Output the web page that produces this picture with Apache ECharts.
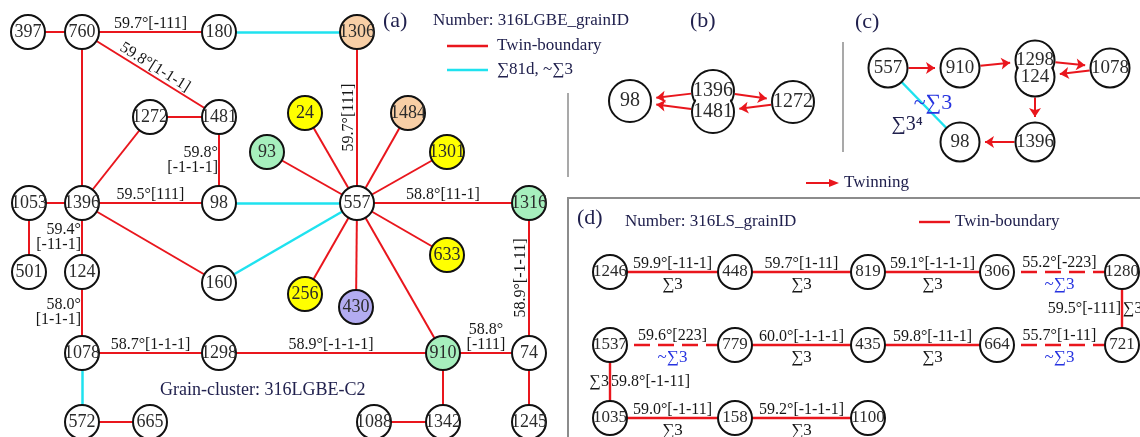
<!DOCTYPE html>
<html>
<head>
<meta charset="utf-8">
<script src="https://cdn.jsdelivr.net/npm/echarts@6/dist/echarts.min.js"></script>
<style>
  html, body { margin: 0; padding: 0; background: #ffffff; }
  #chart { width: 1140px; height: 437px; }
</style>
</head>
<body>
<div id="chart"></div>
<script>
// ---------- (a) grain cluster 316LGBE-C2 ----------
const grainsA = ['397', '760', '180', '1306', '1272', '1481', '24', '1484', '93', '1301',
  '1053', '1396', '98', '557', '1316', '633', '501', '124', '160', '256', '430',
  '1078', '1298', '910', '74', '572', '665', '1088', '1342', '1245'];
// colour family of each grain (w = plain)
const familyA = ['w', 'w', 'w', 'o', 'w', 'w', 'y', 'o', 'g', 'y',
  'w', 'w', 'w', 'w', 'g', 'y', 'w', 'w', 'w', 'y', 'v',
  'w', 'w', 'g', 'w', 'w', 'w', 'w', 'w', 'w'];
// twin boundaries: [grain, grain, misorientation]
const twinA = [
  ['397', '760', ''],
  ['760', '180', '59.7°[-111]'],
  ['760', '1481', '59.8°[1-1-1]'],
  ['760', '1396', ''],
  ['1272', '1481', ''],
  ['1396', '1272', ''],
  ['1053', '1396', ''],
  ['1396', '98', '59.5°[111]'],
  ['557', '1306', '59.7°[111]'],
  ['557', '24', ''], ['557', '93', ''], ['557', '1484', ''], ['557', '1301', ''],
  ['557', '1316', '58.8°[11-1]'],
  ['1396', '160', ''],
  ['557', '256', ''], ['557', '430', ''], ['557', '633', ''], ['557', '910', ''],
  ['1053', '501', ''],
  ['1078', '1298', '58.7°[1-1-1]'],
  ['1298', '910', '58.9°[-1-1-1]'],
  ['910', '74', '58.8°\n[-111]'],
  ['74', '1316', '58.9°[-1-11]'],
  ['572', '665', ''], ['1088', '1342', ''], ['910', '1342', ''], ['74', '1245', '']
];
// twin boundaries whose misorientation is written beside the segment: [grain, grain, left text, right text]
const twinSideA = [
  ['1481', '98', '59.8°\n[-1-1-1]', ''],
  ['1396', '124', '59.4°\n[-11-1]', ''],
  ['124', '1078', '58.0°\n[1-1-1]', '']
];
// Σ81d / near-Σ3 boundaries
const sigmaA = [['180', '1306'], ['98', '557'], ['160', '557'], ['1078', '572']];

// ---------- (b) twinning sequence ----------
const grainsB = ['98', '1272'];
const pairB = ['1396', '1481'];
const twinningB = [['1396', '98'], ['1481', '98'], ['1396', '1272'], ['1272', '1481']];

// ---------- (c) twinning sequence ----------
const grainsC = ['557', '910', '1078', '98', '1396'];
const pairC = ['1298', '124'];
const twinningC = [['557', '910'], ['910', '1298'], ['1298', '1078'], ['1078', '124'], ['124', '1396'], ['1396', '98']];
const sigmaC = [['557', '98', '~∑3', '∑3⁴']];

// ---------- (d) 316LS chains ----------
const grainsD = ['1246', '448', '819', '306', '1280', '1537', '779', '435', '664', '721', '1035', '158', '1100'];
// [grain, grain, misorientation, CSL]
const twinD = [
  ['1246', '448', '59.9°[-11-1]', '∑3'],
  ['448', '819', '59.7°[1-11]', '∑3'],
  ['819', '306', '59.1°[-1-1-1]', '∑3'],
  ['779', '435', '60.0°[-1-1-1]', '∑3'],
  ['435', '664', '59.8°[-11-1]', '∑3'],
  ['1035', '158', '59.0°[-1-11]', '∑3'],
  ['158', '1100', '59.2°[-1-1-1]', '∑3']
];
const nearD = [
  ['306', '1280', '55.2°[-223]', '~∑3'],
  ['1537', '779', '59.6°[223]', '~∑3'],
  ['664', '721', '55.7°[1-11]', '~∑3']
];
const twinSideD = [
  ['1280', '721', '59.5°[-111]', '∑3'],
  ['1537', '1035', '∑3', '59.8°[-1-11]']
];

// ---------- drawing layout (chart pixel space) ----------
const layout = {
  a: { '397': [28, 32], '760': [82, 32], '180': [219, 32], '1306': [357, 32],
       '1272': [150, 117], '1481': [219, 117], '24': [305, 113], '1484': [408, 113],
       '93': [267, 152], '1301': [447, 152], '1053': [29, 203], '1396': [82, 203],
       '98': [219, 203], '557': [357, 203], '1316': [529, 203], '633': [447, 255],
       '501': [29, 272], '124': [82, 272], '160': [219, 283], '256': [305, 294],
       '430': [356, 307], '1078': [82, 353], '1298': [219, 353], '910': [443, 353],
       '74': [529, 353], '572': [82, 422], '665': [150, 422], '1088': [374, 422],
       '1342': [443, 422], '1245': [529, 422] },
  b: { '98': [630, 101], '1396': [713, 91], '1481': [713, 112], '1272': [793, 102] },
  c: { '557': [888, 68], '910': [960, 68], '1298': [1035, 60], '124': [1035, 77],
       '1078': [1110, 68], '98': [960, 142], '1396': [1035, 142] },
  d: { '1246': [610, 272], '448': [735, 272], '819': [868, 272], '306': [997, 272], '1280': [1122, 272],
       '1537': [610, 345], '779': [735, 345], '435': [868, 345], '664': [997, 345], '721': [1122, 345],
       '1035': [610, 418], '158': [735, 418], '1100': [868, 418] }
};
const nodeSize = { a: 34, b: 42, c: 39, d: 34 };
const nodeFont = { a: 18, b: 20, c: 19, d: 17 };
const ARROW = 9;

const SERIF = '"Liberation Serif", "Times New Roman", serif';
const RED = '#e9161d';
const CYAN = '#1fe2ef';
const NAVY = '#21214e';
const INK = '#161616';
const BLUE = '#2633e0';
const FILL = { w: '#ffffff', y: '#ffff00', o: '#f8cfa6', g: '#a6efbd', v: '#b3acf1' };

const at = (p, id) => layout[p][id];
const mid = (p, a, b) => {
  const u = at(p, a), v = at(p, b);
  return [(u[0] + v[0]) / 2, (u[1] + v[1]) / 2];
};

function grainItems(p, ids, fam, shrink) {
  return ids.map((id, i) => ({
    name: id,
    value: at(p, id),
    symbolSize: nodeSize[p] - (shrink || 0),
    itemStyle: { color: FILL[fam ? fam[i] : 'w'] },
    label: { fontSize: nodeFont[p] }
  }));
}

function edge(p, a, b, text, position, extra) {
  const item = { coords: [at(p, a), at(p, b)] };
  if (text) {
    item.label = {
      show: true,
      formatter: text,
      position: position || 'insideMiddleTop',
      color: text.charAt(0) === '~' ? BLUE : INK
    };
  }
  if (extra) Object.assign(item, extra);
  return item;
}

// arrow leaving the rim of one circle, head tip touching the rim of the other
function arrow(p, a, b) {
  const u = at(p, a), v = at(p, b);
  const r = nodeSize[p] / 2 + 1;
  const dx = v[0] - u[0], dy = v[1] - u[1], L = Math.hypot(dx, dy);
  const ex = dx / L, ey = dy / L, e = r + ARROW / 2;
  return { coords: [[u[0] + ex * r, u[1] + ey * r], [v[0] - ex * e, v[1] - ey * e]] };
}

function sideNotes(p, list) {
  const out = [];
  list.forEach(([a, b, left, right]) => {
    const m = mid(p, a, b);
    if (left) out.push({ value: m, label: { position: 'left', formatter: left } });
    if (right) out.push({ value: m, label: { position: 'right', formatter: right } });
  });
  return out;
}

const dStyle = { lineStyle: { width: 2.4 } };

const twinLines = [
  ...twinA.map(([a, b, t]) => edge('a', a, b, t)),
  ...twinSideA.map(([a, b]) => edge('a', a, b)),
  ...twinD.map(([a, b, t]) => edge('d', a, b, t, null, dStyle)),
  ...twinSideD.map(([a, b]) => edge('d', a, b, '', null, dStyle))
];
const nearLines = nearD.map(([a, b, t]) => edge('d', a, b, t));
const sigmaLines = [
  ...sigmaA.map(([a, b]) => edge('a', a, b)),
  ...sigmaC.map(([a, b]) => edge('c', a, b))
];
const cslNotes = [
  ...twinD.map(([a, b, , s]) => edge('d', a, b, s, 'insideMiddleBottom')),
  ...nearD.map(([a, b, , s]) => edge('d', a, b, s, 'insideMiddleBottom'))
];
const twinningLines = [
  ...twinningB.map(([a, b]) => arrow('b', a, b)),
  ...twinningC.map(([a, b]) => arrow('c', a, b))
];
const sideLabels = [...sideNotes('a', twinSideA), ...sideNotes('d', twinSideD)];
const cNotes = sigmaC.flatMap(([a, b, near, cube]) => [
  { value: mid('c', a, b), label: { formatter: near, color: BLUE, fontSize: 22, offset: [9, -2] } },
  { value: mid('c', a, b), label: { formatter: cube, color: NAVY, fontSize: 20, offset: [-17, 20] } }
]);

const plainGrains = [
  ...grainItems('a', grainsA, familyA),
  ...grainItems('b', grainsB),
  ...grainItems('c', grainsC),
  ...grainItems('d', grainsD)
];
const pairGrains = [...grainItems('b', pairB), ...grainItems('c', pairC)];
const pairFaces = [...grainItems('b', pairB, null, 3), ...grainItems('c', pairC, null, 3)];

const lineIcon = 'path://M0,0H41V2.4H0Z';
const lineIconShort = 'path://M0,0H31V2.4H0Z';
const arrowIcon = 'path://M0,3H23V0L33,4L23,8V5H0Z';
const legendText = { fontFamily: SERIF, fontSize: 17, color: NAVY, lineHeight: 20 };
const invisible = { color: 'rgba(0,0,0,0)', opacity: 1 };

const chart = echarts.init(document.getElementById('chart'));
chart.setOption({
  animation: false,
  textStyle: { fontFamily: SERIF },
  grid: { left: 0, right: 0, top: 0, bottom: 0 },
  xAxis: { type: 'value', min: 0, max: 1140, show: false },
  yAxis: { type: 'value', min: 0, max: 437, inverse: true, show: false },
  legend: [
    {
      left: 447, top: 36, orient: 'vertical', padding: 0, itemGap: 4,
      itemWidth: 41, itemHeight: 2.4, selectedMode: false,
      textStyle: Object.assign({ padding: [0, 0, 0, 4] }, legendText),
      data: [
        { name: 'Twin-boundary', icon: lineIcon, itemStyle: { color: RED, borderWidth: 0 } },
        { name: '∑81d, ~∑3', icon: lineIcon, itemStyle: { color: CYAN, borderWidth: 0 } }
      ]
    },
    {
      left: 919, top: 212, padding: 0, itemWidth: 31, itemHeight: 2.4, selectedMode: false,
      textStyle: legendText,
      data: [{ name: 'Twin-boundary', icon: lineIconShort, itemStyle: { color: RED, borderWidth: 0 } }]
    },
    {
      left: 806, top: 173, padding: 0, itemWidth: 33, itemHeight: 8, selectedMode: false,
      textStyle: legendText,
      data: [{ name: 'Twinning', icon: arrowIcon, itemStyle: { color: RED, borderWidth: 0 } }]
    }
  ],
  graphic: [
    { type: 'line', shape: { x1: 568, y1: 93, x2: 568, y2: 177 }, style: { stroke: '#707070', lineWidth: 1.2 } },
    { type: 'line', shape: { x1: 843, y1: 42, x2: 843, y2: 152 }, style: { stroke: '#707070', lineWidth: 1.2 } },
    { type: 'polyline', shape: { points: [[568, 437], [568, 198], [1140, 198]] },
      style: { stroke: '#8c8c8c', lineWidth: 2, fill: null } },
    { type: 'text', x: 383, y: 21, style: { text: '(a)', font: '22px ' + SERIF, fill: NAVY, verticalAlign: 'middle' } },
    { type: 'text', x: 433, y: 21, style: { text: 'Number: 316LGBE_grainID', font: '17px ' + SERIF, fill: NAVY, verticalAlign: 'middle' } },
    { type: 'text', x: 690, y: 21, style: { text: '(b)', font: '22px ' + SERIF, fill: NAVY, verticalAlign: 'middle' } },
    { type: 'text', x: 855, y: 22, style: { text: '(c)', font: '22px ' + SERIF, fill: NAVY, verticalAlign: 'middle' } },
    { type: 'text', x: 577, y: 218, style: { text: '(d)', font: '22px ' + SERIF, fill: NAVY, verticalAlign: 'middle' } },
    { type: 'text', x: 625, y: 222, style: { text: 'Number: 316LS_grainID', font: '17px ' + SERIF, fill: NAVY, verticalAlign: 'middle' } },
    { type: 'text', x: 160, y: 390, style: { text: 'Grain-cluster: 316LGBE-C2', font: '18px ' + SERIF, fill: NAVY, verticalAlign: 'middle' } }
  ],
  series: [
    {
      name: 'Twin-boundary', type: 'lines', coordinateSystem: 'cartesian2d', z: 2, silent: true,
      lineStyle: { color: RED, width: 2, opacity: 1, curveness: 0 },
      label: { show: false, fontFamily: SERIF, fontSize: 16, color: INK, distance: 1, lineHeight: 15 },
      emphasis: { disabled: true },
      data: twinLines
    },
    {
      name: 'near-∑3', type: 'lines', coordinateSystem: 'cartesian2d', z: 2, silent: true,
      lineStyle: { color: RED, width: 2.4, opacity: 1, type: [16, 8], curveness: 0 },
      label: { show: false, fontFamily: SERIF, fontSize: 16, color: INK, distance: 1 },
      emphasis: { disabled: true },
      data: nearLines
    },
    {
      name: '∑81d, ~∑3', type: 'lines', coordinateSystem: 'cartesian2d', z: 2, silent: true,
      lineStyle: { color: CYAN, width: 2.5, opacity: 1, curveness: 0 },
      emphasis: { disabled: true },
      data: sigmaLines
    },
    {
      name: 'CSL', type: 'lines', coordinateSystem: 'cartesian2d', z: 1, silent: true,
      lineStyle: { color: 'rgba(0,0,0,0)', width: 1, opacity: 1, curveness: 0 },
      label: { show: false, fontFamily: SERIF, fontSize: 17, color: INK, distance: 4 },
      emphasis: { disabled: true },
      data: cslNotes
    },
    {
      name: 'Twinning', type: 'lines', coordinateSystem: 'cartesian2d', z: 2, silent: true,
      symbol: ['none', 'arrow'], symbolSize: ARROW,
      lineStyle: { color: RED, width: 2, opacity: 1, curveness: 0 },
      itemStyle: { color: RED },
      emphasis: { disabled: true },
      data: twinningLines
    },
    {
      name: 'grains', type: 'scatter', z: 4, silent: true, symbol: 'circle',
      itemStyle: { borderColor: '#111111', borderWidth: 2, opacity: 1 },
      label: { show: true, position: 'inside', formatter: '{b}', color: '#2b2b2b', fontFamily: SERIF },
      emphasis: { disabled: true },
      data: plainGrains
    },
    {
      name: 'pair rims', type: 'scatter', z: 4, silent: true, symbol: 'circle',
      itemStyle: { color: '#ffffff', borderColor: '#111111', borderWidth: 2, opacity: 1 },
      label: { show: false },
      emphasis: { disabled: true },
      data: pairGrains
    },
    {
      name: 'pair faces', type: 'scatter', z: 5, silent: true, symbol: 'circle',
      itemStyle: { color: '#ffffff', borderWidth: 0, opacity: 1 },
      label: { show: true, position: 'inside', formatter: '{b}', color: '#2b2b2b', fontFamily: SERIF },
      emphasis: { disabled: true },
      data: pairFaces
    },
    {
      name: 'side labels', type: 'scatter', z: 6, silent: true, symbolSize: 0,
      itemStyle: invisible,
      label: { show: true, fontFamily: SERIF, fontSize: 16, color: INK, distance: 1, lineHeight: 15 },
      emphasis: { disabled: true },
      data: sideLabels
    },
    {
      name: 'c notes', type: 'scatter', z: 6, silent: true, symbolSize: 0,
      itemStyle: invisible,
      label: { show: true, position: 'inside', fontFamily: SERIF },
      emphasis: { disabled: true },
      data: cNotes
    }
  ]
});
</script>
</body>
</html>
